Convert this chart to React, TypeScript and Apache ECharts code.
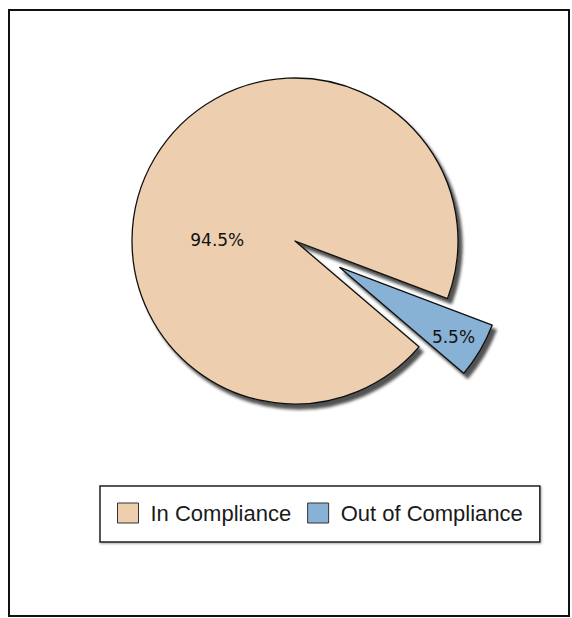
import React, { useEffect, useRef } from "react";
import * as echarts from "echarts";

const categories = ["In Compliance", "Out of Compliance"];
const values = [94.5, 5.5];
const colors = ["#EDCFAF", "#88B2D5"];

export default function App() {
  const ref = useRef<HTMLDivElement>(null);
  useEffect(() => {
    const chart = echarts.init(ref.current!, null, { renderer: "svg" });
    const data = categories.map((name, i) => ({
      name,
      value: values[i],
      selected: i === 1,
      itemStyle: { color: colors[i] },
    }));
    chart.setOption({
      animation: false,
      backgroundColor: "#ffffff",
      graphic: [
        {
          type: "rect",
          shape: { x: 9, y: 10, width: 560, height: 606 },
          style: { fill: "none", stroke: "#111", lineWidth: 2 },
          z: 0,
        },
      ],
      legend: {
        left: 100,
        top: 486,
        orient: "horizontal",
        data: categories,
        icon: "rect",
        itemWidth: 21,
        itemHeight: 20,
        itemGap: 16,
        padding: [16, 17, 18, 17],
        borderColor: "#222",
        borderWidth: 1.5,
        backgroundColor: "#fff",
        shadowColor: "rgba(0,0,0,0.35)",
        shadowBlur: 2,
        shadowOffsetX: 1,
        shadowOffsetY: 1,
        selectedMode: false,
        itemStyle: {
          borderColor: "#333",
          borderWidth: 1,
          shadowBlur: 0,
          shadowOffsetX: 0,
          shadowOffsetY: 0,
          shadowColor: "transparent",
        },
        textStyle: {
          fontFamily: "Liberation Sans",
          fontSize: 22,
          color: "#1a1a1a",
          padding: [0, 0, 0, 7],
        },
      },
      series: [
        {
          type: "pie",
          center: [295, 241],
          radius: 163,
          startAngle: 319.5,
          clockwise: true,
          selectedMode: "single",
          selectedOffset: 52,
          emphasis: { disabled: true },
          itemStyle: {
            borderColor: "#111",
            borderWidth: 1.3,
            shadowColor: "rgba(0,0,0,0.68)",
            shadowBlur: 3,
            shadowOffsetX: 4,
            shadowOffsetY: 5,
          },
          label: {
            show: true,
            position: "inside",
            formatter: (p: any) => p.value.toFixed(1) + "%",
            fontFamily: "DejaVu Sans",
            fontSize: 17,
            color: "#111",
          },
          labelLine: { show: false },
          labelLayout: (p: any) =>
            p.dataIndex === 0 ? { dx: -5, dy: 42 } : { dx: 41, dy: 27 },
          data,
        },
      ],
    });
    return () => chart.dispose();
  }, []);
  return (
    <div
      ref={ref}
      style={{ position: "fixed", left: 0, top: 0, width: 572, height: 618 }}
    />
  );
}
